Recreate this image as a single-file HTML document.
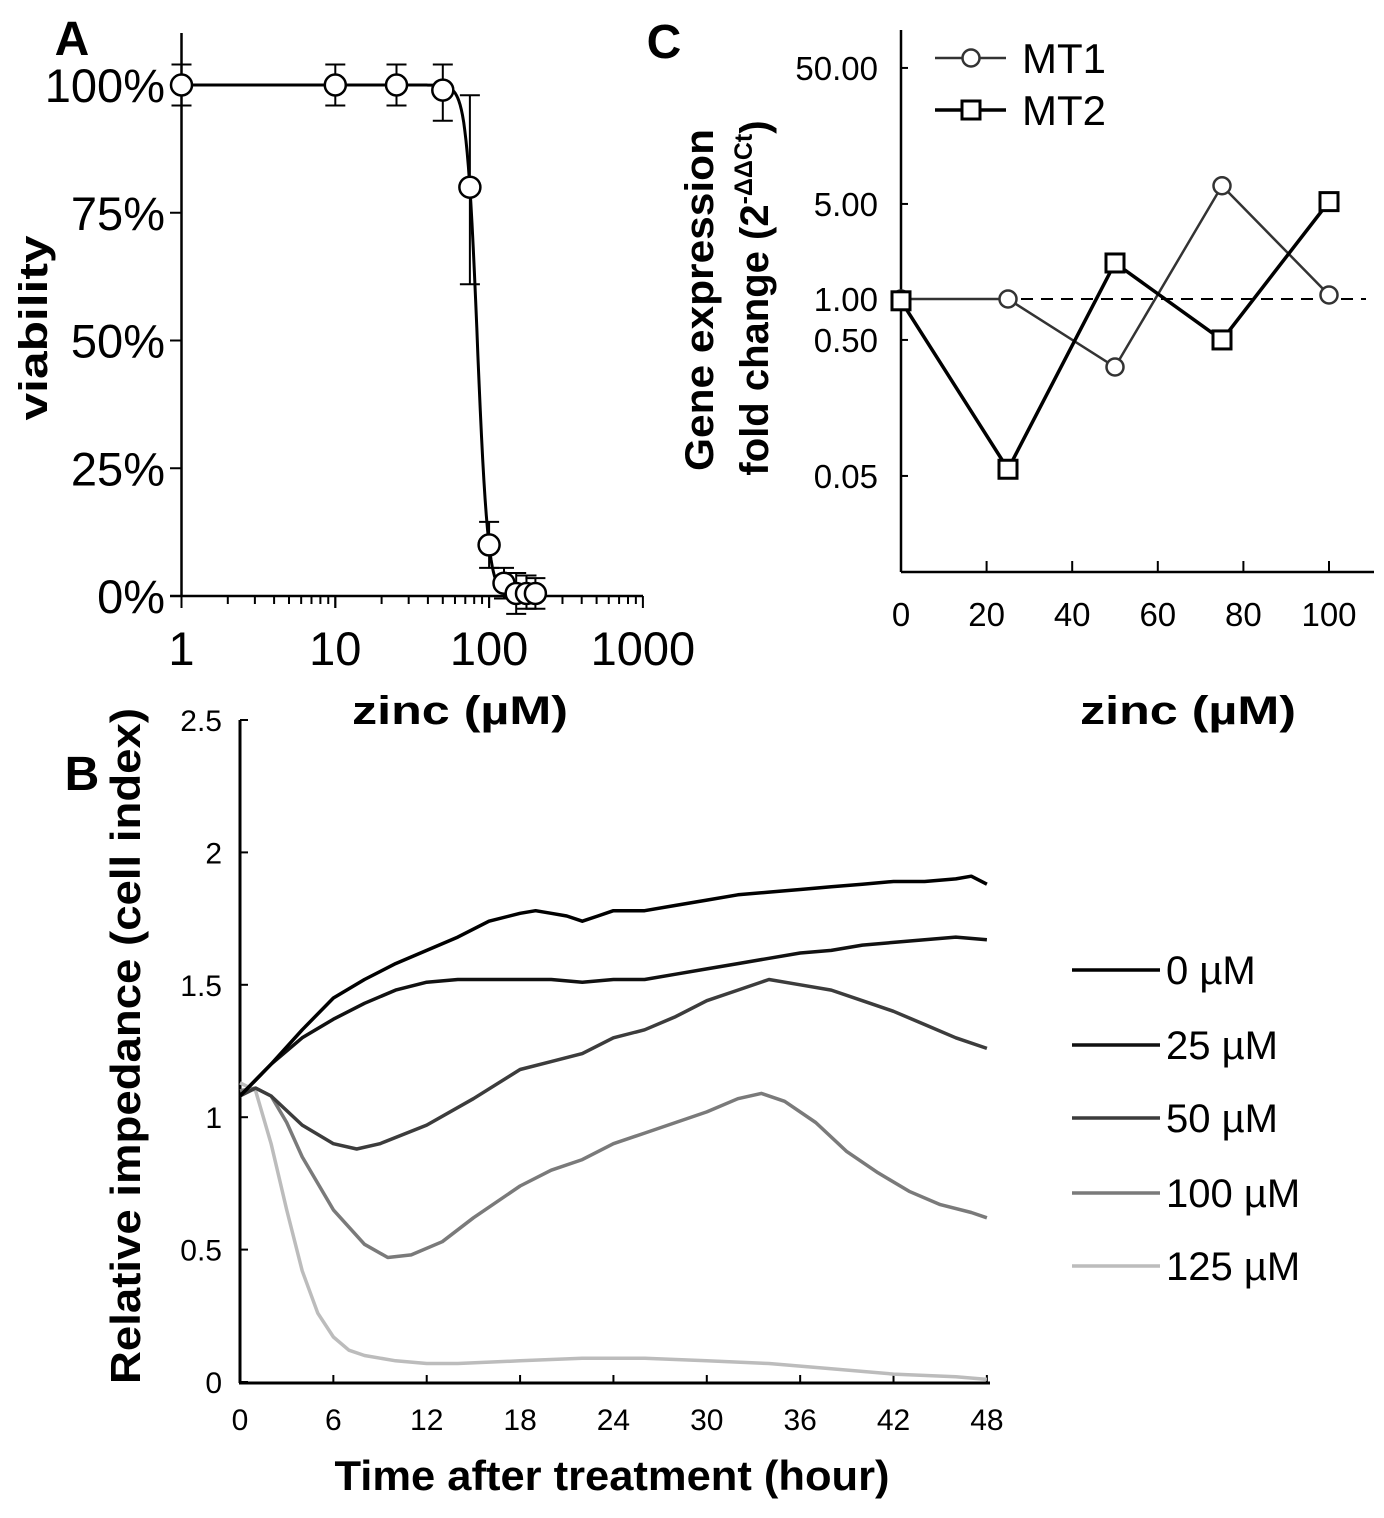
<!DOCTYPE html>
<html><head><meta charset="utf-8"><style>
body{margin:0;background:#fff}
svg{display:block;font-family:"Liberation Sans",Arial,sans-serif}
</style></head><body>
<svg id="fig" width="1384" height="1518" viewBox="0 0 1384 1518"></svg>
<script>
// ---- Panel A data ----
const aConc=[1,10,25,50,75,100,125,150,175,200];
const aViab=[100,100,100,99,80,10,2.5,0.5,0.5,0.5];
const aErrUp=[4,4,4,5,18,4.5,3,4,3.5,3];
const aErrDn=[4,4,4,6,19,4.5,3,4,3,3];
const aTicks=["0%","25%","50%","75%","100%"];
const aTickVals=[0,25,50,75,100];
const aXTicks=[1,10,100,1000];
const aIC50=83.8, aHill=12.46;
// ---- Panel C data ----
const cConc=[0,25,50,75,100];
const cMT1=[1,1,0.316,6.8,1.07];
const cMT2=[0.97,0.056,1.84,0.5,5.2];
const cYTicks=[50,5,1,0.5,0.05];
const cYLabels=["50.00","5.00","1.00","0.50","0.05"];
const cXTicks=[0,20,40,60,80,100];
// ---- Panel B data ----
const bXTicks=[0,6,12,18,24,30,36,42,48];
const bYTicks=[0,0.5,1,1.5,2,2.5];
const bYLabels=["0","0.5","1","1.5","2","2.5"];
const bLabels=["0 µM","25 µM","50 µM","100 µM","125 µM"];
const bT0=[0,2,4,6,8,10,12,14,16,18,19,20,21,22,23,24,26,28,30,32,34,36,38,40,42,44,46,47,48];
const bV0=[1.08,1.2,1.33,1.45,1.52,1.58,1.63,1.68,1.74,1.77,1.78,1.77,1.76,1.74,1.76,1.78,1.78,1.80,1.82,1.84,1.85,1.86,1.87,1.88,1.89,1.89,1.90,1.91,1.88];
const bT25=[0,2,4,6,8,10,12,14,18,20,22,24,26,28,30,32,34,36,38,40,42,44,46,48];
const bV25=[1.08,1.2,1.3,1.37,1.43,1.48,1.51,1.52,1.52,1.52,1.51,1.52,1.52,1.54,1.56,1.58,1.60,1.62,1.63,1.65,1.66,1.67,1.68,1.67];
const bT50=[0,1,2,4,6,7.5,9,12,15,18,20,22,24,26,28,30,32,34,36,38,40,42,44,46,48];
const bV50=[1.08,1.11,1.08,0.97,0.9,0.88,0.9,0.97,1.07,1.18,1.21,1.24,1.3,1.33,1.38,1.44,1.48,1.52,1.50,1.48,1.44,1.40,1.35,1.30,1.26];
const bT100=[0,1,2,3,4,6,8,9.5,11,13,15,18,20,22,24,26,28,30,32,33.5,35,37,39,41,43,45,47,48];
const bV100=[1.1,1.11,1.08,0.98,0.85,0.65,0.52,0.47,0.48,0.53,0.62,0.74,0.8,0.84,0.9,0.94,0.98,1.02,1.07,1.09,1.06,0.98,0.87,0.79,0.72,0.67,0.64,0.62];
const bT125=[0,1,2,3,4,5,6,7,8,10,12,14,18,22,26,30,34,38,42,46,48];
const bV125=[1.13,1.1,0.9,0.65,0.42,0.26,0.17,0.12,0.1,0.08,0.07,0.07,0.08,0.09,0.09,0.08,0.07,0.05,0.03,0.02,0.01];

const svg=document.getElementById('fig');
const NS='http://www.w3.org/2000/svg';
function mk(tag,attrs,parent){const e=document.createElementNS(NS,tag);for(const k in attrs)e.setAttribute(k,attrs[k]);(parent||svg).appendChild(e);return e;}
function txt(s,attrs,parent){const e=mk('text',attrs,parent);e.textContent=s;return e;}

// ===== Panel A =====
const gA=mk('g',{});


const ax=v=>181.5+153.8*Math.log10(v);
const ay=v=>596-5.11*v;
mk('line',{x1:181.5,y1:33,x2:181.5,y2:596,stroke:'#000','stroke-width':2.5},gA);
mk('line',{x1:170,y1:596,x2:643,y2:596,stroke:'#000','stroke-width':2.5},gA);
aTickVals.forEach((v,i)=>{mk('line',{x1:170,y1:ay(v),x2:181.5,y2:ay(v),stroke:'#000','stroke-width':2},gA);
 const t=txt(aTicks[i],{x:165,y:ay(v)+17,'font-size':47,'text-anchor':'end'},gA);
 });
for(let d=0;d<3;d++)for(let m=1;m<=10;m++){const v=Math.pow(10,d)*m;const x=ax(v);
 mk('line',{x1:x,y1:596,x2:x,y2:m===1||m===10?608:604,stroke:'#000','stroke-width':2},gA);}
aXTicks.forEach(v=>{const t=txt(String(v),{x:ax(v),y:665,'font-size':47,'text-anchor':'middle'},gA);
 });
let d='';for(let i=0;i<=300;i++){const c=Math.pow(10,i*Math.log10(210)/300);
 const v=100/(1+Math.pow(c/aIC50,aHill));d+=(i?'L':'M')+ax(c).toFixed(1)+','+ay(v).toFixed(1);}
const cur=mk('path',{d:d,fill:'none',stroke:'#000','stroke-width':3},gA);

aConc.forEach((c,i)=>{const x=ax(c);const yt=ay(aViab[i]+aErrUp[i]),yb=ay(aViab[i]-aErrDn[i]);
 mk('line',{x1:x,y1:yt,x2:x,y2:yb,stroke:'#000','stroke-width':2},gA);
 mk('line',{x1:x-10,y1:yt,x2:x+10,y2:yt,stroke:'#000','stroke-width':2},gA);
 mk('line',{x1:x-10,y1:yb,x2:x+10,y2:yb,stroke:'#000','stroke-width':2},gA);});
aConc.forEach((c,i)=>{const p=mk('circle',{cx:ax(c),cy:ay(aViab[i]),r:10.5,fill:'#fff',stroke:'#000','stroke-width':2.5},gA);
 });
let t;
t=txt('viability',{transform:'translate(47,328) rotate(-90)','font-size':40,'font-weight':'bold','text-anchor':'middle',textLength:185,lengthAdjust:'spacingAndGlyphs'},gA);

t=txt('zinc (µM)',{x:460,y:724,'font-size':40,'font-weight':'bold','text-anchor':'middle',textLength:216,lengthAdjust:'spacingAndGlyphs'},gA);

t=txt('A',{x:72,y:55,'font-size':48,'font-weight':'bold','text-anchor':'middle'},gA);


// ===== Panel C =====
const gC=mk('g',{});


const cx=v=>901+4.28*v;
const cy=v=>299-136*Math.log10(v);
mk('line',{x1:901,y1:30,x2:901,y2:572,stroke:'#000','stroke-width':2.5},gC);
mk('line',{x1:901,y1:572,x2:1374,y2:572,stroke:'#000','stroke-width':2.5},gC);
cYTicks.forEach((v,i)=>{mk('line',{x1:901,y1:cy(v),x2:908,y2:cy(v),stroke:'#000','stroke-width':2},gC);
 const tt=txt(cYLabels[i],{x:878,y:cy(v)+12,'font-size':33,'text-anchor':'end'},gC);
 });
cXTicks.forEach(v=>{mk('line',{x1:cx(v),y1:572,x2:cx(v),y2:561,stroke:'#000','stroke-width':2},gC);
 const tt=txt(String(v),{x:cx(v),y:626,'font-size':33,'text-anchor':'middle'},gC);
 });
mk('line',{x1:901,y1:cy(1),x2:1366,y2:cy(1),stroke:'#000','stroke-width':2,'stroke-dasharray':'12,8'},gC);
const l1=mk('polyline',{points:cConc.map((c,i)=>cx(c)+','+cy(cMT1[i])).join(' '),fill:'none',stroke:'#333','stroke-width':2.5},gC);

const l2=mk('polyline',{points:cConc.map((c,i)=>cx(c)+','+cy(cMT2[i])).join(' '),fill:'none',stroke:'#000','stroke-width':3.5},gC);

cConc.forEach((c,i)=>{const p=mk('circle',{cx:cx(c),cy:cy(cMT1[i]),r:8.5,fill:'#fff',stroke:'#333','stroke-width':2.5},gC);
 });
cConc.forEach((c,i)=>{const p=mk('rect',{x:cx(c)-9,y:cy(cMT2[i])-9,width:18,height:18,fill:'#fff',stroke:'#000','stroke-width':3},gC);
 });
// legend
mk('line',{x1:935,y1:58,x2:1006,y2:58,stroke:'#333','stroke-width':2.5},gC);
mk('circle',{cx:971,cy:58,r:8.5,fill:'#fff',stroke:'#333','stroke-width':2.5},gC);
t=txt('MT1',{x:1022,y:73,'font-size':42},gC);
mk('line',{x1:935,y1:110,x2:1006,y2:110,stroke:'#000','stroke-width':3.5},gC);
mk('rect',{x:962,y:101,width:18,height:18,fill:'#fff',stroke:'#000','stroke-width':3},gC);
t=txt('MT2',{x:1022,y:125,'font-size':42},gC);
t=txt('Gene expression',{transform:'translate(713,300) rotate(-90)','font-size':40,'font-weight':'bold','text-anchor':'middle',textLength:342,lengthAdjust:'spacingAndGlyphs'},gC);

t=mk('text',{transform:'translate(768,298) rotate(-90)','font-size':40,'font-weight':'bold','text-anchor':'middle'},gC);
t.innerHTML='fold change (2<tspan font-size="25" dy="-16">-ΔΔCt</tspan><tspan dy="16">)</tspan>';

t=txt('zinc (µM)',{x:1188,y:724,'font-size':40,'font-weight':'bold','text-anchor':'middle',textLength:216,lengthAdjust:'spacingAndGlyphs'},gC);

t=txt('C',{x:664,y:58,'font-size':48,'font-weight':'bold','text-anchor':'middle'},gC);


// ===== Panel B =====
const gB=mk('g',{});


const bx=v=>240+15.56*v;
const by=v=>1382-264.8*v;
mk('line',{x1:240,y1:720,x2:240,y2:1383,stroke:'#000','stroke-width':3},gB);
mk('line',{x1:239,y1:1383,x2:990,y2:1383,stroke:'#000','stroke-width':3},gB);
bYTicks.forEach((v,i)=>{mk('line',{x1:240,y1:by(v),x2:248,y2:by(v),stroke:'#000','stroke-width':2},gB);
 const tt=txt(bYLabels[i],{x:222,y:by(v)+11,'font-size':30,'text-anchor':'end'},gB);
 });
bXTicks.forEach(v=>{mk('line',{x1:bx(v),y1:1383,x2:bx(v),y2:1375,stroke:'#000','stroke-width':2},gB);
 const tt=txt(String(v),{x:bx(v),y:1430,'font-size':30,'text-anchor':'middle'},gB);
 });
const series=[[bT0,bV0,'#000'],[bT25,bV25,'#111'],[bT50,bV50,'#3c3c3c'],[bT100,bV100,'#7a7a7a'],[bT125,bV125,'#bcbcbc']];
for(let s=series.length-1;s>=0;s--){const [T,V,col]=series[s];
 const pl=mk('polyline',{points:T.map((x,i)=>bx(x).toFixed(1)+','+by(V[i]).toFixed(1)).join(' '),fill:'none',stroke:col,'stroke-width':3.5,'stroke-linejoin':'round'},gB);
 }
const legY=[970,1045,1118,1193,1266];
series.forEach((s,i)=>{mk('line',{x1:1072,y1:legY[i],x2:1160,y2:legY[i],stroke:s[2],'stroke-width':3.5},gB);
 const tt=txt(bLabels[i],{x:1166,y:legY[i]+14,'font-size':40},gB);
 });
t=txt('Relative impedance (cell index)',{transform:'translate(140,1046) rotate(-90)','font-size':42,'font-weight':'bold','text-anchor':'middle',textLength:676,lengthAdjust:'spacingAndGlyphs'},gB);

t=txt('Time after treatment (hour)',{x:612,y:1490,'font-size':42,'font-weight':'bold','text-anchor':'middle',textLength:555,lengthAdjust:'spacingAndGlyphs'},gB);

t=txt('B',{x:82,y:790,'font-size':48,'font-weight':'bold','text-anchor':'middle'},gB);

</script>
</body></html>
